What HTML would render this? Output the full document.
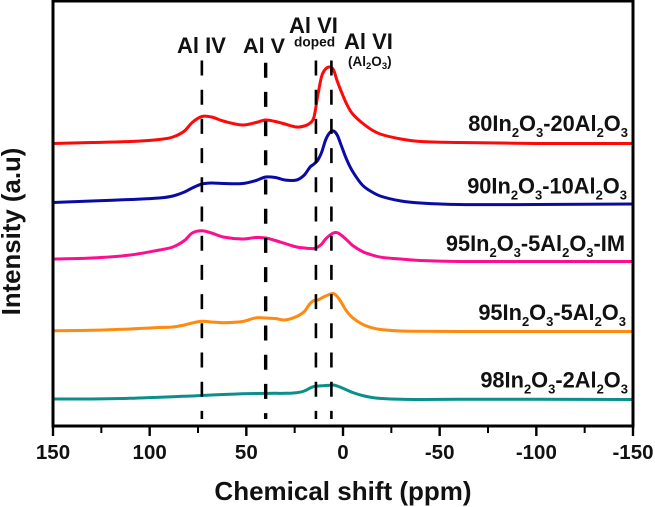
<!DOCTYPE html>
<html lang="en">
<head>
<meta charset="utf-8">
<title>Chemical shift chart</title>
<style>
html,body{margin:0;padding:0;background:#fff;width:655px;height:507px;overflow:hidden}
svg{display:block;position:absolute;left:0;top:0;filter:blur(0.35px)}
text{font-family:"Liberation Sans",Arial,sans-serif;font-weight:bold;fill:#111}
</style>
</head>
<body>
<svg id="chart" xmlns="http://www.w3.org/2000/svg" width="655" height="507" viewBox="0 0 655 507">
  <g id="series-layer" fill="none" stroke-width="3" stroke-linejoin="round" stroke-linecap="butt"></g>
  <g id="peak-layer"></g>
  <rect x="53" y="1" width="580" height="425" fill="none" stroke="#000" stroke-width="3"></rect>
  <g id="tick-layer"></g>

  <text x="343" y="500" text-anchor="middle" font-size="26">Chemical shift (ppm)</text>
  <text transform="translate(20,231.5) rotate(-90)" text-anchor="middle" font-size="25.8">Intensity (a.u)</text>

  <text x="177" y="53" font-size="22">Al IV</text>
  <text x="243" y="53" font-size="21.6">Al V</text>
  <text x="289" y="33" font-size="22">Al VI</text>
  <text x="294" y="46.7" font-size="13.7">doped</text>
  <text x="344" y="49" font-size="22">Al VI</text>
  <text x="348" y="66" font-size="13.5">(Al<tspan font-size="9.5" dy="3">2</tspan><tspan dy="-3">O</tspan><tspan font-size="9.5" dy="3">3</tspan><tspan dy="-3">)</tspan></text>

  <text x="628" y="131" text-anchor="end" font-size="21.8">80In<tspan font-size="13" dy="6">2</tspan><tspan dy="-6">O</tspan><tspan font-size="13" dy="6">3</tspan><tspan dy="-6">-20Al</tspan><tspan font-size="13" dy="6">2</tspan><tspan dy="-6">O</tspan><tspan font-size="13" dy="6">3</tspan></text>
  <text x="627" y="193.7" text-anchor="end" font-size="21.8">90In<tspan font-size="13" dy="6">2</tspan><tspan dy="-6">O</tspan><tspan font-size="13" dy="6">3</tspan><tspan dy="-6">-10Al</tspan><tspan font-size="13" dy="6">2</tspan><tspan dy="-6">O</tspan><tspan font-size="13" dy="6">3</tspan></text>
  <text x="625" y="251" text-anchor="end" font-size="21.8">95In<tspan font-size="13" dy="6">2</tspan><tspan dy="-6">O</tspan><tspan font-size="13" dy="6">3</tspan><tspan dy="-6">-5Al</tspan><tspan font-size="13" dy="6">2</tspan><tspan dy="-6">O</tspan><tspan font-size="13" dy="6">3</tspan><tspan dy="-6">-IM</tspan></text>
  <text x="626" y="320" text-anchor="end" font-size="21.8">95In<tspan font-size="13" dy="6">2</tspan><tspan dy="-6">O</tspan><tspan font-size="13" dy="6">3</tspan><tspan dy="-6">-5Al</tspan><tspan font-size="13" dy="6">2</tspan><tspan dy="-6">O</tspan><tspan font-size="13" dy="6">3</tspan></text>
  <text x="628" y="387.7" text-anchor="end" font-size="21.8">98In<tspan font-size="13" dy="6">2</tspan><tspan dy="-6">O</tspan><tspan font-size="13" dy="6">3</tspan><tspan dy="-6">-2Al</tspan><tspan font-size="13" dy="6">2</tspan><tspan dy="-6">O</tspan><tspan font-size="13" dy="6">3</tspan></text>
</svg>
<script>
const ppmValues = [150,130,110,95,88,82,78,73,68,62,52,45,40,35,30,24,20,17,15,13,11,9,7,5,3,1,-2,-5,-10,-15,-20,-30,-40,-60,-100,-150];
const intensity80 = [282.5,283.5,284.5,286.5,289,295,303.5,309.5,309,305,301,303.5,306,304.5,302,299,300,303,309,331,350,357,359,356.5,345,335,321.5,312,303,296,291.5,287,284.5,283.5,282.5,282.5];
const intensity90 = [223.5,225,226.5,228,230,234,238,242,243,242.5,242.5,245.5,249,248.5,246,246,251,259,262,266,274,286,293,295,291,281,266,254.5,241,234,229.5,225,223,221.5,221.5,222];
const intensity95im = [167,168,171,176,179,185.5,193,195.2,193,189,187,188.5,188,185.5,182.5,179,178,177.5,177.5,179,182,187,190.5,193,193.3,191,186,180.5,174.5,171,168.7,167,165.5,164.5,164.5,164.5];
const intensity95 = [95.3,95.7,97,98.5,99,101,103,104.7,104,103.3,104.5,108.2,108,107.5,106,109.5,114.5,122.5,125.5,126,128,130,131.5,132.5,129.5,124,114.5,108.2,101.8,98.2,96.4,95,94.7,94.5,94.5,94.5];
const intensity98 = [27,27,27.7,28.8,29.3,29.8,30,30.5,31,31.5,32.2,32.5,32.6,32.7,32.7,33.3,35,38,39.5,40,40.2,40.5,40.8,41,40,38.5,36,33.5,30.5,28.5,27.5,26.7,26.5,26.7,26.7,26.5];
const majorTicks = [150,100,50,0,-50,-100,-150];
const minorTicks = [125,75,25,-25,-75,-125];
const peakPositions = [73,40,14,6];

const NS = 'http://www.w3.org/2000/svg';
function xScale(p){ return 53 + (150 - p) * (580 / 300); }
function yScale(v){ return 426 - v; }

function smoothPath(xs, ys){
  const pts = xs.map(function(p, i){ return [xScale(p), yScale(ys[i])]; });
  let d = 'M' + pts[0][0].toFixed(2) + ' ' + pts[0][1].toFixed(2);
  for (let i = 0; i < pts.length - 1; i++) {
    const p0 = pts[Math.max(0, i - 1)], p1 = pts[i], p2 = pts[i + 1], p3 = pts[Math.min(pts.length - 1, i + 2)];
    const h = p2[0] - p1[0];
    const m1 = (p2[1] - p0[1]) / ((p2[0] - p0[0]) || 1);
    const m2 = (p3[1] - p1[1]) / ((p3[0] - p1[0]) || 1);
    const c1x = p1[0] + h / 3, c1y = p1[1] + m1 * h / 3;
    const c2x = p2[0] - h / 3, c2y = p2[1] - m2 * h / 3;
    d += 'C' + c1x.toFixed(2) + ' ' + c1y.toFixed(2) + ' ' + c2x.toFixed(2) + ' ' + c2y.toFixed(2) + ' ' + p2[0].toFixed(2) + ' ' + p2[1].toFixed(2);
  }
  return d;
}

const seriesLayer = document.getElementById('series-layer');
function drawSeries(values, color, name){
  const path = document.createElementNS(NS, 'path');
  path.setAttribute('d', smoothPath(ppmValues, values));
  path.setAttribute('stroke', color);
  
  
  seriesLayer.appendChild(path);
}
drawSeries(intensity98, '#0a8f8a', 'series-98-2');
drawSeries(intensity95, '#ff8a10', 'series-95-5');
drawSeries(intensity95im, '#ff0d8f', 'series-95-5-im');
drawSeries(intensity90, '#0a0aa5', 'series-90-10');
drawSeries(intensity80, '#ff0808', 'series-80-20');

const peakLayer = document.getElementById('peak-layer');
peakPositions.forEach(function(p, i){
  const line = document.createElementNS(NS, 'line');
  const x = xScale(p);
  line.setAttribute('x1', x);
  line.setAttribute('x2', x);
  line.setAttribute('y1', i === 1 ? 62.7 : 60.5);
  line.setAttribute('y2', 419);
  line.setAttribute('stroke', '#000');
  line.setAttribute('stroke-width', i === 1 ? 3.4 : 2.6);
  line.setAttribute('stroke-dasharray', '15 14.2');
  
  
  peakLayer.appendChild(line);
});

const tickLayer = document.getElementById('tick-layer');
function drawTick(p, len, width){
  const t = document.createElementNS(NS, 'line');
  t.setAttribute('x1', xScale(p));
  t.setAttribute('x2', xScale(p));
  t.setAttribute('y1', 426);
  t.setAttribute('y2', 426 + len);
  t.setAttribute('stroke', '#000');
  t.setAttribute('stroke-width', width);
  
  
  tickLayer.appendChild(t);
}
minorTicks.forEach(function(p){ drawTick(p, 7, 2); });
majorTicks.forEach(function(p){
  drawTick(p, 10, 2.4);
  const label = document.createElementNS(NS, 'text');
  label.setAttribute('x', xScale(p));
  label.setAttribute('y', 459);
  label.setAttribute('text-anchor', 'middle');
  label.setAttribute('font-size', '20.5');
  
  
  label.textContent = String(p);
  tickLayer.appendChild(label);
});
</script>
</body>
</html>
